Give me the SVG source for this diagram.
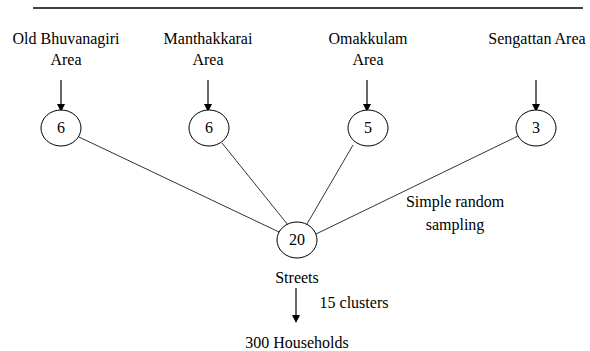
<svg xmlns="http://www.w3.org/2000/svg" width="590" height="351" viewBox="0 0 590 351">
<defs>
<marker id="ah" markerWidth="8" markerHeight="8" refX="6" refY="4" orient="auto" markerUnits="userSpaceOnUse" viewBox="0 0 8 8">
<path d="M0,0 L8,4 L0,8 Z" fill="#000"/>
</marker>
<style>
.c{fill:#fff;stroke:#000;stroke-width:1}
.l{stroke:#333;stroke-width:1;fill:none}
.a{stroke:#000;stroke-width:1.2;fill:none;marker-end:url(#ah)}
</style>
</defs>
<rect width="590" height="351" fill="#fff"/>
<line x1="33" y1="8" x2="583" y2="8" stroke="#000" stroke-width="1.3"/>
<g id="connectors">
<line class="l" x1="79" y1="137" x2="279" y2="232"/>
<line class="l" x1="222" y1="143" x2="288" y2="225"/>
<line class="l" x1="353" y1="145" x2="307" y2="224"/>
<line class="l" x1="518" y1="136" x2="316" y2="234"/>
<line class="a" x1="61" y1="80" x2="61" y2="110"/>
<line class="a" x1="208" y1="80" x2="208" y2="110"/>
<line class="a" x1="367" y1="80" x2="367" y2="110"/>
<line class="a" x1="536" y1="80" x2="536" y2="110"/>
<line class="a" x1="296" y1="288" x2="296" y2="321"/>
</g>
<g id="label-old"><text x="66" y="44" font-size="16" font-family="Liberation Serif" text-anchor="middle">Old Bhuvanagiri</text><text x="66" y="65" font-size="16" font-family="Liberation Serif" text-anchor="middle">Area</text></g>
<g id="label-man"><text x="208" y="44" font-size="16" font-family="Liberation Serif" text-anchor="middle">Manthakkarai</text><text x="208" y="65" font-size="16" font-family="Liberation Serif" text-anchor="middle">Area</text></g>
<g id="label-oma"><text x="368" y="44" font-size="16" font-family="Liberation Serif" text-anchor="middle">Omakkulam</text><text x="368" y="65" font-size="16" font-family="Liberation Serif" text-anchor="middle">Area</text></g>
<g id="label-sen"><text x="537" y="44" font-size="16" font-family="Liberation Serif" text-anchor="middle">Sengattan Area</text></g>
<g id="n1"><ellipse class="c" cx="61" cy="128" rx="20" ry="18"/><text x="61" y="133" font-size="16" font-family="Liberation Serif" text-anchor="middle">6</text></g>
<g id="n2"><ellipse class="c" cx="209" cy="128" rx="20" ry="18"/><text x="209" y="133" font-size="16" font-family="Liberation Serif" text-anchor="middle">6</text></g>
<g id="n3"><ellipse class="c" cx="368" cy="128" rx="20" ry="18"/><text x="368" y="133" font-size="16" font-family="Liberation Serif" text-anchor="middle">5</text></g>
<g id="n4"><ellipse class="c" cx="536" cy="128" rx="20" ry="18"/><text x="536" y="133" font-size="16" font-family="Liberation Serif" text-anchor="middle">3</text></g>
<g id="n20"><ellipse class="c" cx="297" cy="240" rx="20" ry="18"/><text x="297" y="245" font-size="16" font-family="Liberation Serif" text-anchor="middle">20</text></g>
<g id="label-srs"><text x="455" y="207" font-size="16" font-family="Liberation Serif" text-anchor="middle">Simple random</text><text x="455" y="230" font-size="16" font-family="Liberation Serif" text-anchor="middle">sampling</text></g>
<g id="label-streets"><text x="297" y="283" font-size="16" font-family="Liberation Serif" text-anchor="middle">Streets</text></g>
<g id="label-clusters"><text x="354" y="308" font-size="16" font-family="Liberation Serif" text-anchor="middle">15 clusters</text></g>
<g id="label-households"><text x="297" y="348" font-size="16" font-family="Liberation Serif" text-anchor="middle">300 Households</text></g>
</svg>
